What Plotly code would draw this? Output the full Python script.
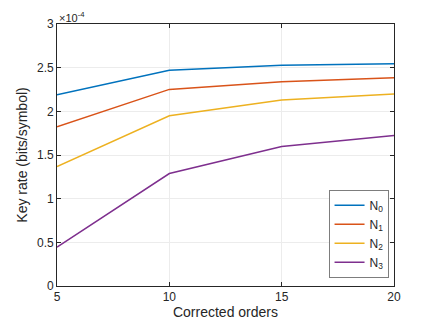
import plotly.graph_objects as go

# corrected orders and key rates (in units of 1e-4 bits/symbol)
orders = [5, 10, 15, 20]
rate_n0 = [2.19, 2.47, 2.527, 2.546]
rate_n1 = [1.823, 2.251, 2.339, 2.385]
rate_n2 = [1.368, 1.95, 2.13, 2.198]
rate_n3 = [0.444, 1.288, 1.597, 1.724]
names = ['N<sub>0</sub>', 'N<sub>1</sub>', 'N<sub>2</sub>', 'N<sub>3</sub>']
yticks = [0, 0.5, 1, 1.5, 2, 2.5, 3]

colors = ['#0072BD', '#D95319', '#EDB120', '#7E2F8E']
axis_col = '#262626'

fig = go.Figure()
for name, ys, c in zip(names, [rate_n0, rate_n1, rate_n2, rate_n3], colors):
    fig.add_trace(go.Scatter(
        x=orders, y=ys, mode='lines', name=name,
        line=dict(color=c, width=1.5)
    ))

axis_style = dict(
    showline=True, linecolor=axis_col, linewidth=0.6, mirror='ticks',
    ticks='inside', ticklen=4, tickcolor=axis_col,
    showgrid=True, gridcolor='#ececec', gridwidth=1, zeroline=False,
    tickfont=dict(size=12, color=axis_col)
)

fig.update_layout(
    width=436, height=327,
    margin=dict(l=57, r=42, t=24, b=41),
    plot_bgcolor='white', paper_bgcolor='white',
    font=dict(family='Liberation Sans, Arial, sans-serif', size=12, color=axis_col),
    xaxis=dict(range=[5, 20], tickvals=orders,
               title=dict(text='Corrected orders', font=dict(size=14), standoff=2),
               **axis_style),
    yaxis=dict(range=[0, 3], tickvals=yticks, ticktext=[f'{v:g}' for v in yticks],
               title=dict(text='Key rate (bits/symbol)', font=dict(size=14), standoff=6),
               **axis_style),
    legend=dict(x=0.985, y=0.03, xanchor='right', yanchor='bottom',
                bgcolor='white', bordercolor='#262626', borderwidth=0.6,
                font=dict(size=12), tracegroupgap=0, itemwidth=30),
    showlegend=True
)

fig.add_annotation(
    xref='paper', yref='paper', x=0, y=1, xanchor='left', yanchor='bottom',
    text='\u00d710<sup>-4</sup>', showarrow=False, yshift=-2,
    font=dict(size=11, color=axis_col)
)

# drop the default page margin so the figure sits at the window origin
fig.write_html('out.html', config={'displayModeBar': False},
               post_script="document.body.style.margin='0';")
